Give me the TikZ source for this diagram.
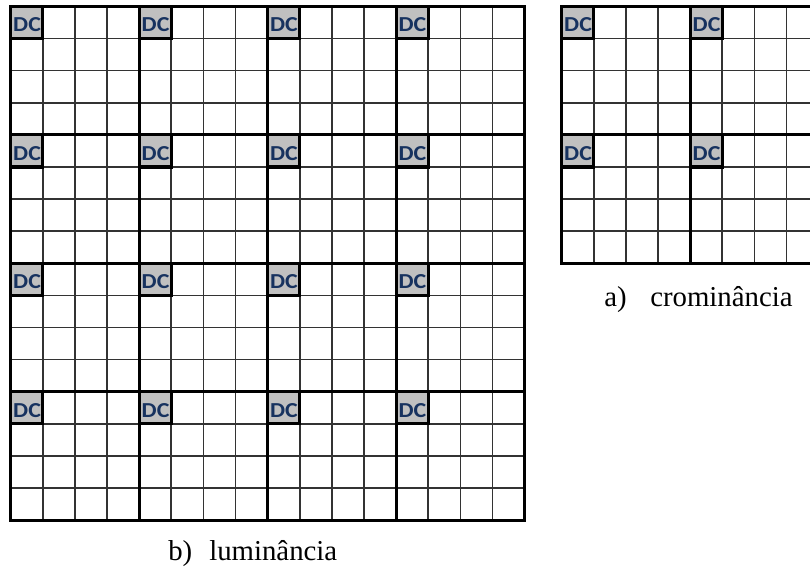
\documentclass[tikz,border=0pt]{standalone}
\usepackage{fontspec}
\setmainfont{Liberation Serif}
\newfontfamily\dcfont[FakeStretch=1.12]{Carlito}
\definecolor{dcblue}{RGB}{23,50,95}
\definecolor{dcgray}{RGB}{192,192,192}
\begin{document}
\begin{tikzpicture}[x=0.75pt,y=-0.75pt,
  thinline/.style={line width=1.3pt, draw=black!80},
  thickline/.style={line width=2.4pt, draw=black},
  dccell/.style={fill=dcgray},
  dclabel/.style={anchor=base west, inner sep=0pt, font=\dcfont\bfseries\fontsize{16}{16}\selectfont, text=dcblue},
  caption/.style={anchor=base west, inner sep=0pt, font=\fontsize{21.6}{22}\selectfont}]
\useasboundingbox (0,0) rectangle (810,567);
\begin{scope}
\clip (0,0) rectangle (810,567);
% ---- left grid: luminance, 16 x 16 ----
\begin{scope}[shift={(10.7,6.3)}, x=24.09pt, y=-24.09pt]
  \foreach \i in {0,1,2,3} \foreach \j in {0,1,2,3}
    \fill[dccell] (4*\i,4*\j) rectangle +(1,1);
  \foreach \k in {1,...,15} {
    \draw[thinline] (\k,0) -- (\k,16);
    \draw[thinline] (0,\k) -- (16,\k);
  }
  \foreach \i in {0,1,2,3} \foreach \j in {0,1,2,3} {
    \draw[thickline] (4*\i,4*\j) rectangle +(4,4);
    \draw[thickline] (4*\i,4*\j) rectangle +(1,1);
    \node[dclabel] (dcL-\i-\j) at (4*\i+0.07,4*\j+0.80) {DC};
  }
\end{scope}
% ---- right grid: chrominance, 8 x 8 ----
\begin{scope}[shift={(561.7,6.3)}, x=24.09pt, y=-24.09pt]
  \foreach \i in {0,1} \foreach \j in {0,1}
    \fill[dccell] (4*\i,4*\j) rectangle +(1,1);
  \foreach \k in {1,...,7} {
    \draw[thinline] (\k,0) -- (\k,8);
    \draw[thinline] (0,\k) -- (8,\k);
  }
  \foreach \i in {0,1} \foreach \j in {0,1} {
    \draw[thickline] (4*\i,4*\j) rectangle +(4,4);
    \draw[thickline] (4*\i,4*\j) rectangle +(1,1);
    \node[dclabel] (dcR-\i-\j) at (4*\i+0.07,4*\j+0.80) {DC};
  }
\end{scope}
\end{scope}
% ---- captions ----
\node[caption] (capAnum) at (604,306) {a)};
\node[caption] (capAtxt) at (650,306) {crominância};
\node[caption] (capBnum) at (168,560) {b)};
\node[caption] (capBtxt) at (209,560) {luminância};
\end{tikzpicture}
\end{document}
